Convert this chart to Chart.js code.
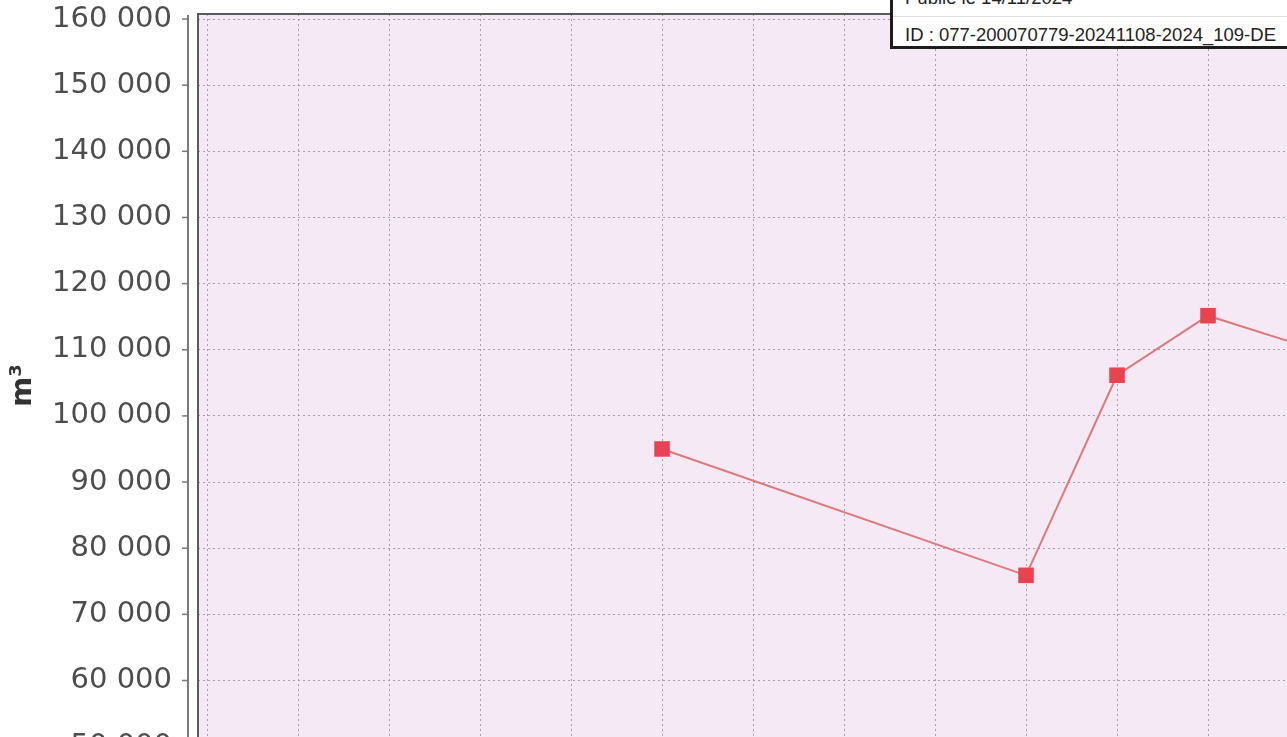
<!DOCTYPE html>
<html>
<head>
<meta charset="utf-8">
<script src="https://cdn.jsdelivr.net/npm/chart.js@4/dist/chart.umd.min.js"></script>
<style>
  html, body { margin: 0; padding: 0; background: #fff; overflow: hidden; }
  #wrap { position: relative; width: 1287px; height: 757px; }
  #stamp {
    position: absolute; left: 890px; top: -30px; width: 420px; height: 79px;
    box-sizing: border-box; border: 3px solid #1c1c1c; background: #fff;
    font-family: "Liberation Sans", Arial, sans-serif; font-size: 18.5px; line-height: 1; color: #222;
  }
  #stamp .line1 { position: absolute; left: 12px; top: 16px; white-space: nowrap; }
  #stamp .sep { position: absolute; left: 0; right: 0; top: 43px; border-top: 1px solid #ddd; }
  #stamp .line2 { position: absolute; left: 12px; top: 53px; white-space: nowrap; }
</style>
</head>
<body>
<div id="wrap">
  <canvas id="myChart" width="1287" height="757"></canvas>
  <div id="stamp">
    <div class="line1">Publié le 14/11/2024</div>
    <div class="sep"></div>
    <div class="line2">ID : 077-200070779-20241108-2024_109-DE</div>
  </div>
</div>
<script>
const years = [2016, 2020, 2021, 2022, 2023];
const volumes = [95000, 75900, 106150, 115150, 110800];
const yTicks = [50000, 60000, 70000, 80000, 90000, 100000, 110000, 120000, 130000, 140000, 150000, 160000];
const xGrid = [2011, 2012, 2013, 2014, 2015, 2016, 2017, 2018, 2019, 2020, 2021, 2022];
const yMin = 48435;
const yMax = 160760;
const xMin = 2010.9;
const xMax = 2022.868;

function fmt(v) {
  return String(v).replace(/\B(?=(\d{3})+(?!\d))/g, " ");
}

// plot background, frame and the detached y axis line
const plotFrame = {
  id: "plotFrame",
  beforeDraw(chart) {
    const { ctx, chartArea: a } = chart;
    ctx.save();
    ctx.fillStyle = "#f4e9f4";
    ctx.fillRect(a.left, a.top, a.right - a.left, a.bottom - a.top);
    ctx.restore();
  },
  afterDatasetsDraw(chart) {
    const { ctx, chartArea: a, scales } = chart;
    ctx.save();
    ctx.strokeStyle = "#5a5a5a";
    ctx.lineWidth = 2;
    ctx.beginPath();
    ctx.moveTo(a.left, a.bottom);
    ctx.lineTo(a.left, a.top);
    ctx.lineTo(a.right, a.top);
    ctx.stroke();
    // axis line + tick marks
    const ax = a.left - 10;
    ctx.strokeStyle = "#7a7a7a";
    ctx.beginPath();
    ctx.moveTo(ax, a.top + 1);
    ctx.lineTo(ax, a.bottom);
    ctx.stroke();
    ctx.lineWidth = 1.5;
    scales.y.ticks.forEach((t) => {
      const y = scales.y.getPixelForValue(t.value);
      ctx.beginPath();
      ctx.moveTo(ax - 6, y);
      ctx.lineTo(ax, y);
      ctx.stroke();
    });
    ctx.restore();
  },
};

new Chart(document.getElementById("myChart"), {
  type: "line",
  data: {
    datasets: [
      {
        label: "m³",
        data: years.map((x, i) => ({ x: x, y: volumes[i] })),
        borderColor: "rgb(222,120,122)",
        borderWidth: 2,
        pointStyle: "rect",
        pointRadius: 11,
        pointBackgroundColor: "#e8434f",
        pointBorderWidth: 0,
        tension: 0,
      },
    ],
  },
  options: {
    responsive: false,
    animation: false,
    layout: { autoPadding: false, padding: { top: 14, left: 0, right: 0, bottom: 0 } },
    plugins: { legend: { display: false }, tooltip: { enabled: false } },
    scales: {
      x: {
        type: "linear",
        min: xMin,
        max: xMax,
        afterBuildTicks: (s) => { s.ticks = xGrid.map((v) => ({ value: v })); },
        afterFit: (s) => { s.height = 0; s.paddingLeft = 0; s.paddingRight = 0; },
        ticks: { display: false },
        grid: {
          drawTicks: false,
          color: "rgba(150,130,150,0.75)",
          lineWidth: 1,
        },
        border: { display: false, dash: [2, 3] },
      },
      y: {
        min: yMin,
        max: yMax,
        afterBuildTicks: (s) => { s.ticks = yTicks.map((v) => ({ value: v })); },
        afterFit: (s) => { s.width = 198; s.paddingTop = 0; s.paddingBottom = 0; },
        ticks: {
          padding: 26,
          color: "#4d4d4d",
          font: { family: "DejaVu Sans", size: 29 },
          callback: (v) => fmt(v),
        },
        grid: {
          drawTicks: false,
          color: "rgba(150,130,150,0.75)",
          lineWidth: 1,
        },
        border: { display: false, dash: [2, 3] },
        title: {
          display: true,
          text: "m³",
          color: "#333",
          font: { family: "DejaVu Sans", size: 29, weight: "bold" },
          padding: { top: 6, bottom: 0 },
        },
      },
    },
  },
  plugins: [plotFrame],
});
</script>
</body>
</html>
